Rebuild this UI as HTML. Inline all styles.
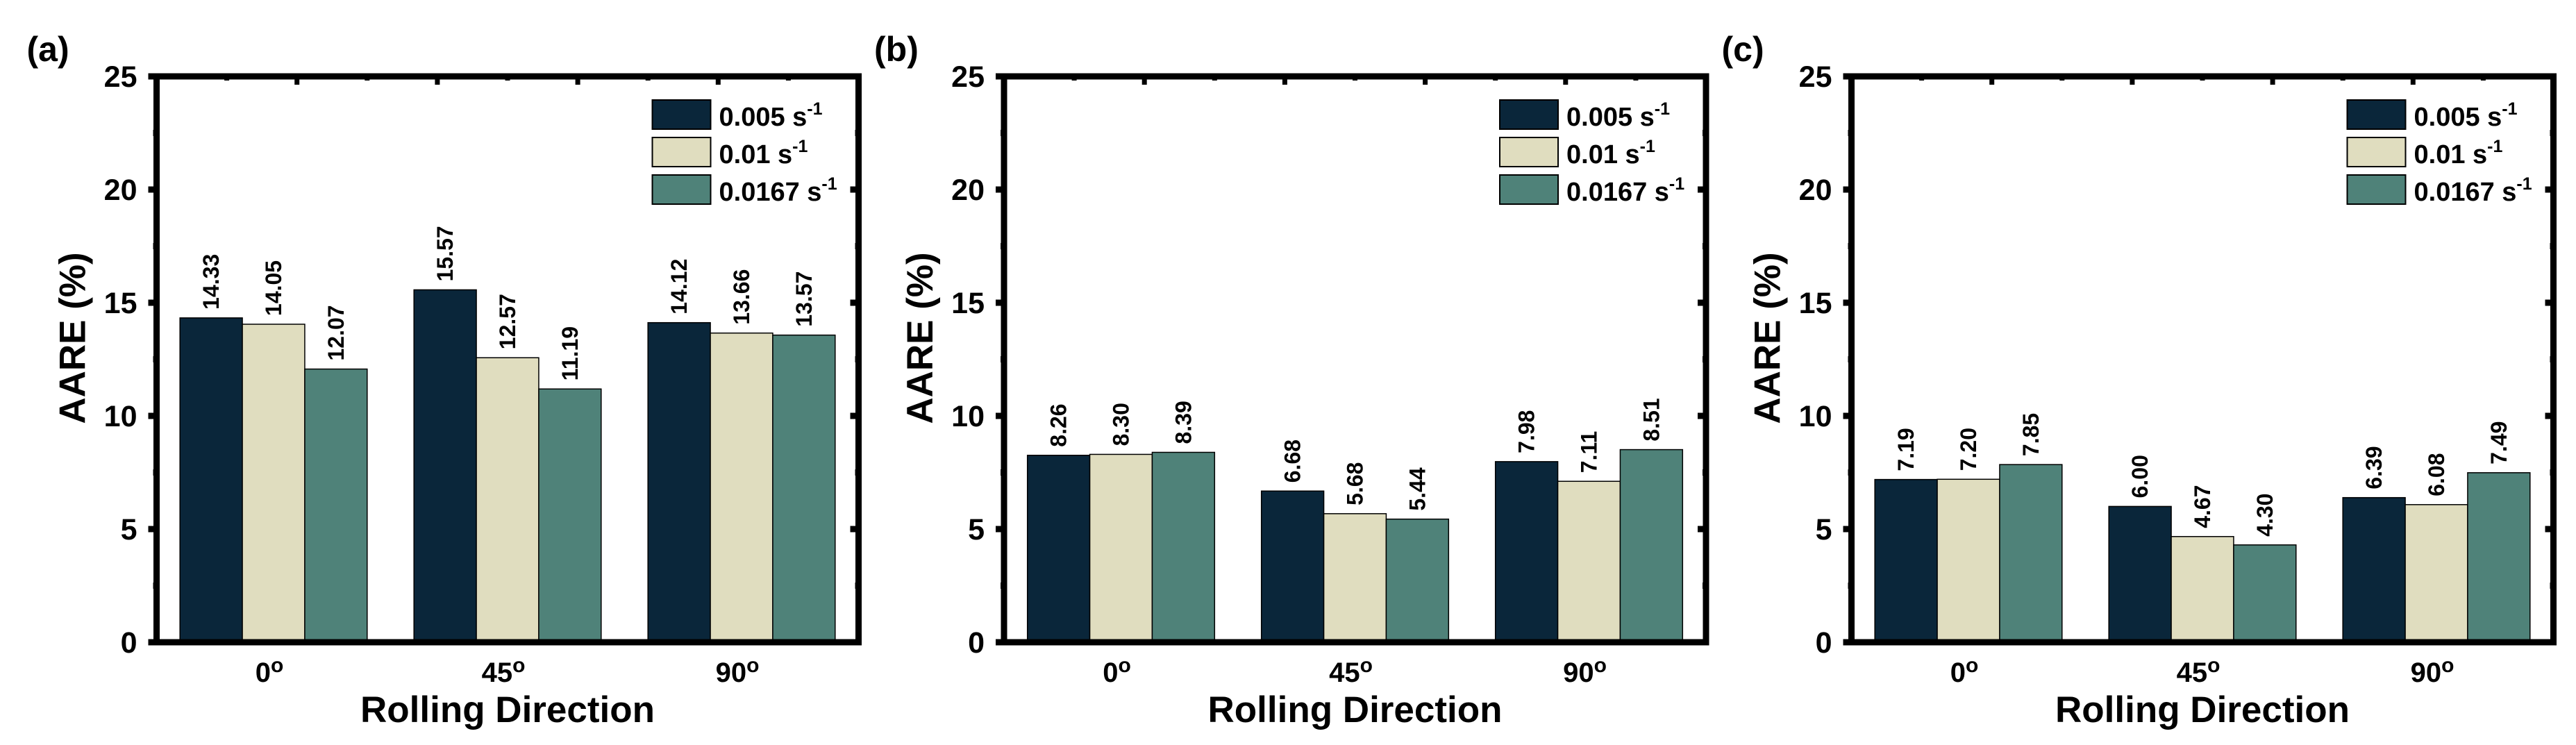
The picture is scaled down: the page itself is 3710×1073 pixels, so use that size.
<!DOCTYPE html>
<html><head><meta charset="utf-8">
<style>
html,body{margin:0;padding:0;background:#fff;}
svg{display:block;font-family:"Liberation Sans",Arial,sans-serif;font-weight:bold;}
</style></head>
<body>
<svg id="chart" width="3710" height="1073" viewBox="0 0 3710 1073" xmlns="http://www.w3.org/2000/svg"></svg>
<script>
const panelLabels = ["(a)", "(b)", "(c)"];
const categories = ["0", "45", "90"];
const seriesNames = ["0.005", "0.01", "0.0167"];
const panelA_s1 = [14.33, 15.57, 14.12];
const panelA_s2 = [14.05, 12.57, 13.66];
const panelA_s3 = [12.07, 11.19, 13.57];
const panelB_s1 = [8.26, 6.68, 7.98];
const panelB_s2 = [8.30, 5.68, 7.11];
const panelB_s3 = [8.39, 5.44, 8.51];
const panelC_s1 = [7.19, 6.00, 6.39];
const panelC_s2 = [7.20, 4.67, 6.08];
const panelC_s3 = [7.85, 4.30, 7.49];
const yTicks = [0, 5, 10, 15, 20, 25];
const panelData = [
  [panelA_s1, panelA_s2, panelA_s3],
  [panelB_s1, panelB_s2, panelB_s3],
  [panelC_s1, panelC_s2, panelC_s3]
];

const NS = "http://www.w3.org/2000/svg";
const svg = document.getElementById("chart");
const colors = ["#0a263a", "#e0ddbf", "#4f8279"];
function mk(tag, attrs, parent) {
  const e = document.createElementNS(NS, tag);
  for (const k in attrs) e.setAttribute(k, attrs[k]);
  (parent || svg).appendChild(e);
  return e;
}
const Y0 = 925, Y25 = 110, PW = 1011, YMAX = 25;
const panelLefts = [225.5, 1446, 2666.5];

panelLefts.forEach((L, p) => {
  const g = mk("g", {});
  
  
  const R = L + PW;
  const yScale = v => Y0 - (v / YMAX) * (Y0 - Y25);
  const xScale = c => L + (c + 0.5) / categories.length * PW;
  const step = PW / categories.length;
  const bw = step * 0.8 / 3;

  const pl = mk("text", {x: L - 187, y: 88, "font-size": 50}, g);
  pl.textContent = panelLabels[p];
  
  

  // bars
  panelData[p].forEach((series, s) => {
    series.forEach((v, c) => {
      const x = xScale(c) - 1.5 * bw + s * bw;
      const y = yScale(v);
      const r = mk("rect", {x: x, y: y, width: bw, height: Y0 - y, fill: colors[s], stroke: "#000", "stroke-width": 1.5}, g);
      
      
      const cx = x + bw / 2 + 11, ty = y - 12;
      const t = mk("text", {x: 0, y: 0, "font-size": 32, transform: `translate(${cx},${ty}) rotate(-90)`}, g);
      t.textContent = v.toFixed(2);
      
      
    });
  });

  // ticks
  yTicks.forEach(v => {
    const y = yScale(v);
    mk("line", {x1: L - 12, x2: L, y1: y, y2: y, stroke: "#000", "stroke-width": 9}, g);
    mk("line", {x1: R - 12, x2: R, y1: y, y2: y, stroke: "#000", "stroke-width": 9}, g);
    const t = mk("text", {x: L - 28, y: y + 15, "font-size": 43, "text-anchor": "end"}, g);
    t.textContent = v;
    
    
    if (v < YMAX) {
      const ym = yScale(v + 2.5);
      mk("line", {x1: L - 5, x2: L, y1: ym, y2: ym, stroke: "#000", "stroke-width": 9}, g);
      mk("line", {x1: R - 5, x2: R, y1: ym, y2: ym, stroke: "#000", "stroke-width": 9}, g);
    }
  });
  for (let k = 0; k <= 5; k++) {
    const x = L + k * PW / 5;
    mk("line", {x1: x, x2: x, y1: Y25, y2: Y25 + 12, stroke: "#000", "stroke-width": 7}, g);
    if (k < 5) {
      const xm = x + PW / 10;
      mk("line", {x1: xm, x2: xm, y1: Y25, y2: Y25 + 6, stroke: "#000", "stroke-width": 7}, g);
    }
  }
  // frame
  const fr = mk("rect", {x: L, y: Y25, width: PW, height: Y0 - Y25, fill: "none", stroke: "#000", "stroke-width": 9}, g);
  
  

  // x labels
  categories.forEach((c, i) => {
    const t = mk("text", {x: xScale(i) - 6, y: 982, "font-size": 40, "text-anchor": "middle"}, g);
    t.textContent = c;
    const o = mk("tspan", {"font-size": 30, dy: -14}, t);
    o.textContent = "o";
    
    
  });
  const xt = mk("text", {x: L + PW / 2, y: 1040, "font-size": 53, "text-anchor": "middle"}, g);
  xt.textContent = "Rolling Direction";
  
  
  const yt = mk("text", {x: 0, y: 0, "font-size": 53, "text-anchor": "middle", transform: `translate(${L - 103},487) rotate(-90)`}, g);
  yt.textContent = "AARE (%)";
  
  

  // legend
  seriesNames.forEach((n, s) => {
    const ly = 144 + s * 54;
    const sw = mk("rect", {x: L + 714, y: ly, width: 84, height: 42, fill: colors[s], stroke: "#000", "stroke-width": 2}, g);
    
    
    const t = mk("text", {x: L + 810, y: ly + 37, "font-size": 38}, g);
    t.textContent = n + " s";
    const sup = mk("tspan", {"font-size": 25, dy: -16}, t);
    sup.textContent = "-1";
    
    
  });
});
</script>
</body></html>
